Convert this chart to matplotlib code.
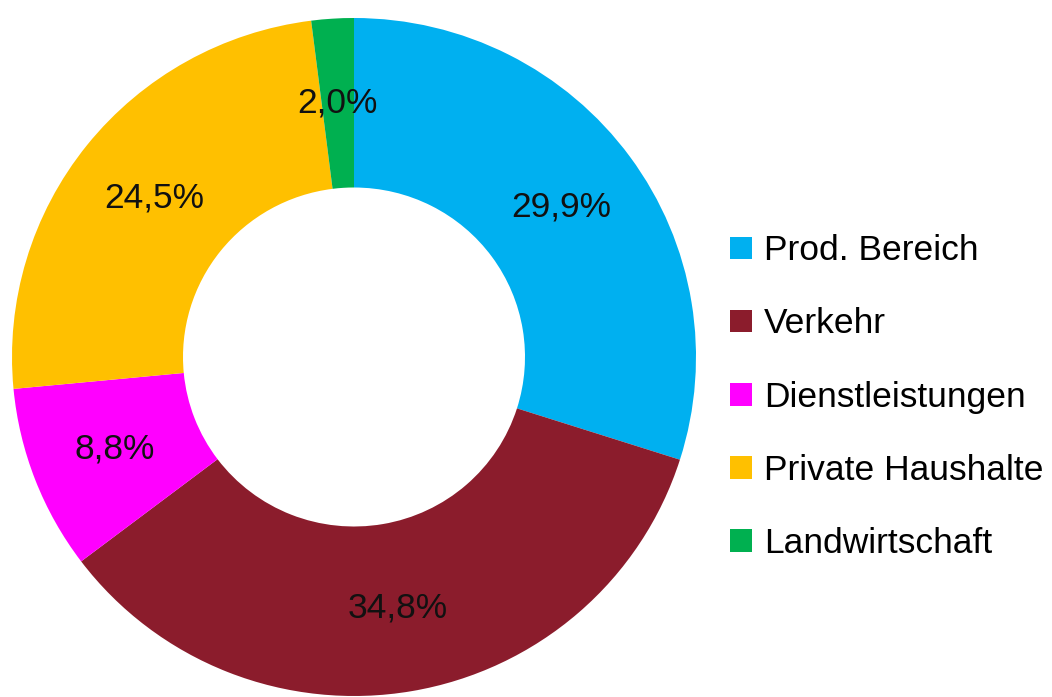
import matplotlib
matplotlib.use("Agg")
import matplotlib.pyplot as plt
from matplotlib.patches import Patch

plt.rcParams['font.family'] = ['Liberation Sans', 'DejaVu Sans']

# data
sectors = ["Prod. Bereich", "Verkehr", "Dienstleistungen", "Private Haushalte", "Landwirtschaft"]
shares = [29.9, 34.8, 8.8, 24.5, 2.0]
colors = ["#00B0F0", "#8B1C2C", "#FF00FF", "#FFC000", "#00B050"]

W, H = 1052, 697
fig = plt.figure(figsize=(W / 100, H / 100), dpi=100)

# donut axes: centre (354, 357) px from top, outer radius ~342 x 339 px
cx, cy, Rx, Ry = 354, H - 357, 342, 339
ax = fig.add_axes([(cx - Rx) / W, (cy - Ry) / H, 2 * Rx / W, 2 * Ry / H])
wedges, _, autotexts = ax.pie(
    shares, colors=colors, startangle=90, counterclock=False, radius=1.0,
    wedgeprops=dict(width=0.5, linewidth=0),
    autopct=lambda p: f"{p:.1f}%".replace(".", ","), pctdistance=0.75,
    textprops=dict(fontsize=25.5, color="#111111"))
ax.set_xlim(-1, 1); ax.set_ylim(-1, 1); ax.set_aspect("auto"); ax.axis("off")

handles = [Patch(facecolor=c, edgecolor="none") for c in colors]
fig.legend(handles, sectors, loc="center left", bbox_to_anchor=(730 / W, 1 - 397 / H),
           frameon=False, fontsize=25.5, handlelength=0.62, handleheight=0.62,
           handletextpad=0.34, labelspacing=1.13, borderpad=0, borderaxespad=0)

fig.savefig("out.png", dpi=100)
